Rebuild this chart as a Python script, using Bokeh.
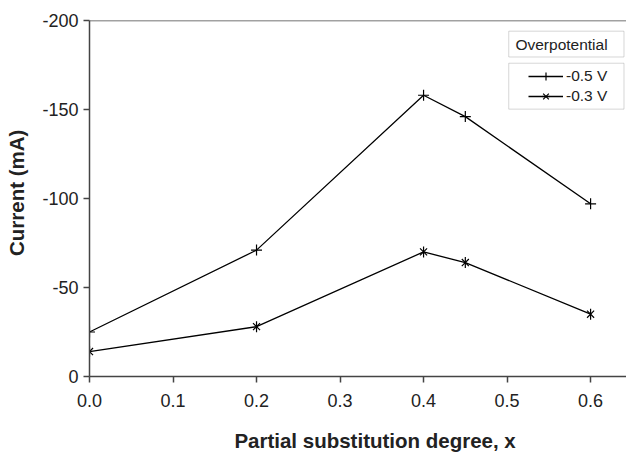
from bokeh.plotting import figure
from bokeh.models import Range1d, Legend, LegendItem, Label, BoxAnnotation, FixedTicker
from bokeh.embed import file_html
from bokeh.resources import INLINE

x_vals = [0.0, 0.2, 0.4, 0.45, 0.6]
i_05 = [-25, -71, -158, -146, -97]
i_03 = [-14, -28, -70, -64, -35]
x_ticks = [0.0, 0.1, 0.2, 0.3, 0.4, 0.5, 0.6]
y_ticks = [0, -50, -100, -150, -200]
y_tick_labels = ["0", "-50", "-100", "-150", "-200"]

FONT = "Liberation Sans"
TXT = "#222222"
AX = "#444444"
NB = "\u00a0"

p = figure(width=626, height=454, output_backend="svg", toolbar_location=None,
           x_range=Range1d(0, 0.643), y_range=Range1d(0, -200),
           min_border_left=89, min_border_right=0, min_border_top=20, min_border_bottom=78)
p.outline_line_color = None
p.grid.grid_line_color = None
p.background_fill_color = "white"

for ax in (p.xaxis[0], p.yaxis[0]):
    ax.axis_line_color = AX
    ax.axis_line_width = 1.5
    ax.major_tick_line_color = AX
    ax.major_tick_line_width = 1.5
    ax.major_tick_out = 6
    ax.major_tick_in = 0
    ax.minor_tick_line_color = None
    ax.major_label_text_font = FONT
    ax.major_label_text_font_size = "18px"
    ax.major_label_text_color = TXT
    ax.axis_label_text_font = FONT
    ax.axis_label_text_font_style = "bold"
    ax.axis_label_text_font_size = "20.5px"
    ax.axis_label_text_color = TXT

p.xaxis[0].ticker = FixedTicker(ticks=x_ticks)
p.xaxis[0].major_label_overrides = {t: f"{t:.1f}" for t in x_ticks}
p.xaxis[0].major_label_standoff = 11
p.xaxis[0].axis_label = NB * 6 + "Partial substitution degree, x"
p.xaxis[0].axis_label_standoff = 19

p.yaxis[0].ticker = FixedTicker(ticks=y_ticks)
p.yaxis[0].major_label_overrides = dict(zip(y_ticks, y_tick_labels))
p.yaxis[0].major_label_standoff = 5
p.yaxis[0].axis_label = NB * 2 + "Current (mA)"
p.yaxis[0].axis_label_standoff = 11

# top spine
p.line(x=[0, 0.643], y=[-200, -200], line_color=AX, line_width=1.5)

l1 = p.line(x_vals, i_05, line_color="black", line_width=1.3)
m1 = p.scatter(x_vals, i_05, marker="cross", size=11, line_color="black", line_width=1.2)
l2 = p.line(x_vals, i_03, line_color="black", line_width=1.3)
m2a = p.scatter(x_vals, i_03, marker="x", size=10, line_color="black", line_width=1.2)
m2b = p.scatter(x_vals, i_03, marker="dash", angle=1.5708, size=11, line_color="black", line_width=1.2)

# legend title box
p.add_layout(BoxAnnotation(left=0.502, right=0.640, top=-194, bottom=-179.5,
                           fill_color="white", fill_alpha=1, line_color="#777777", line_width=1))
p.add_layout(Label(x=0.510, y=-186.7, text="Overpotential", text_baseline="middle",
                   text_font=FONT, text_font_size="15.5px", text_color=TXT))

# legend entries box
p.add_layout(BoxAnnotation(left=0.502, right=0.640, top=-176.0, bottom=-150.2,
                           fill_color="white", fill_alpha=1, line_color="#777777", line_width=1))

legend = Legend(items=[LegendItem(label="-0.5 V", renderers=[l1, m1]),
                       LegendItem(label="-0.3 V", renderers=[l2, m2a, m2b])],
                location=(439, 270), glyph_width=35, glyph_height=20,
                label_text_font=FONT, label_text_font_size="15.5px", label_text_color=TXT,
                label_standoff=3, spacing=0, padding=1, margin=0,
                border_line_color=None, background_fill_alpha=0)
p.add_layout(legend)

open("out.html", "w").write(file_html(p, INLINE))
